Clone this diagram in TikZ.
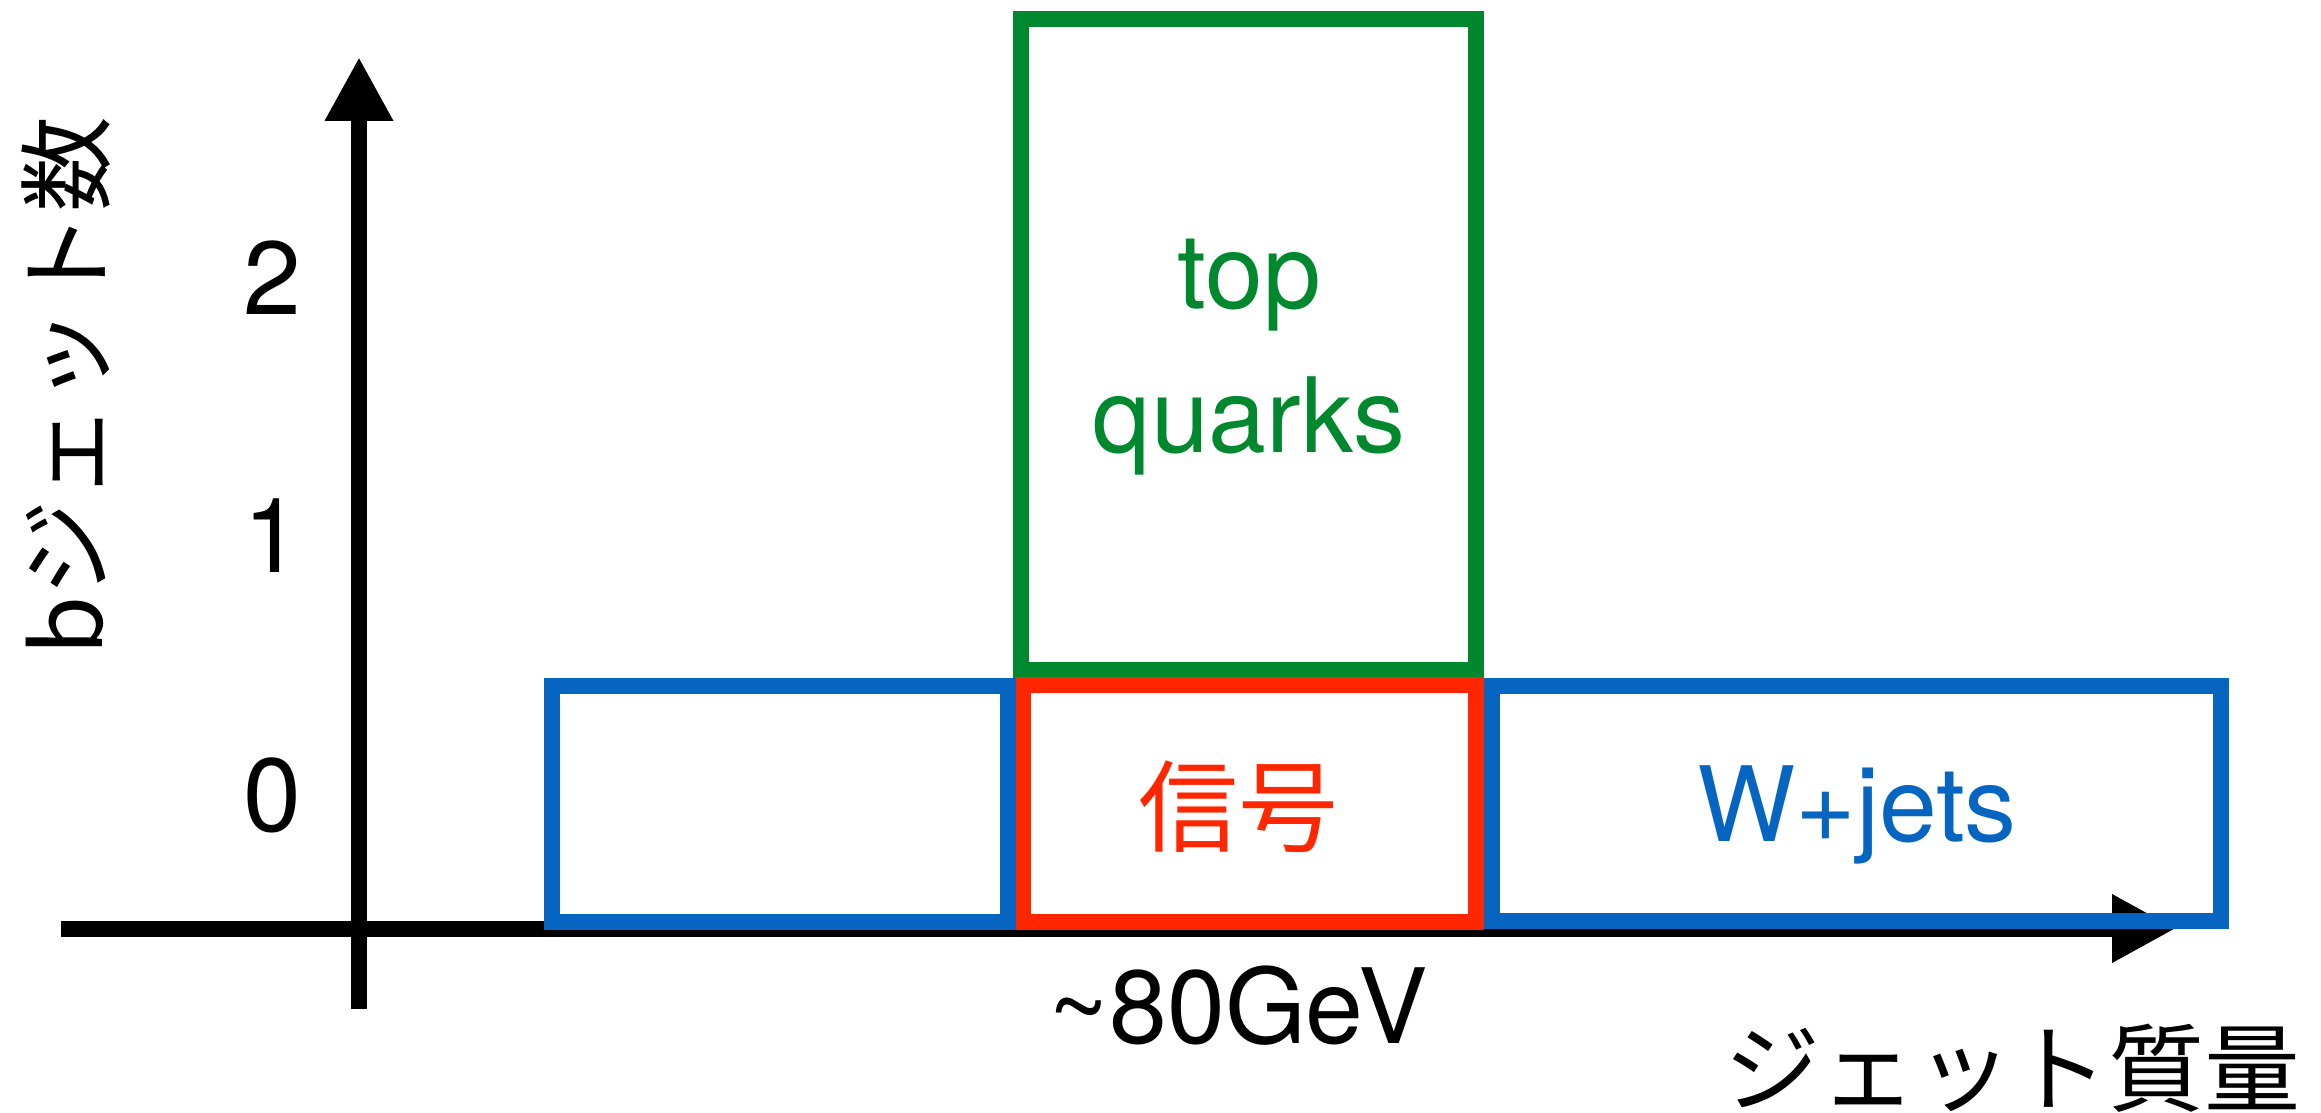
\documentclass[tikz,border=0pt]{standalone}
\usepackage{fontspec}
\setmainfont{TeX Gyre Heros}
\newfontfamily\jp{Noto Sans CJK JP}
\usetikzlibrary{arrows.meta}
\definecolor{cgreen}{RGB}{0,136,46}
\definecolor{cblue}{RGB}{5,101,192}
\definecolor{cred}{RGB}{255,38,0}
\begin{document}
\begin{tikzpicture}[x=1pt,y=-1pt,
  axisline/.style={line width=16pt, black},
  boxline/.style={line width=16pt},
  lat/.style={font=\fontsize{104}{110}\selectfont, inner sep=0pt},
  jlab/.style={font=\jp\fontsize{96}{100}\selectfont, inner sep=0pt}]
\useasboundingbox (0,0) rectangle (2321,1113);
% axes
\coordinate (xs) at (61,928.5);
\coordinate (xe) at (2176,928.5);
\coordinate (ys) at (359,1009);
\coordinate (ye) at (359,57);
\draw[axisline, -{Triangle[length=64pt,width=64pt]}] (xs) -- (xe);
\draw[axisline, -{Triangle[length=64pt,width=64pt]}] (ys) -- (ye);
% boxes
\draw[boxline, cgreen] (1020.5,19) rectangle (1476,669.5);
\draw[boxline, cred] (1023,685) rectangle (1476,921.5);
\draw[boxline, cblue] (552,686) rectangle (1008,922);
\draw[boxline, cblue] (1492,686) rectangle (2220.5,921);
% labels
\node[lat, anchor=base] (n2) at (272,314) {2};
\node[lat, anchor=base] (n1) at (272,572) {1};
\node[lat, anchor=base] (n0) at (272,831) {0};
\node[lat, text=cgreen, anchor=base] (top) at (1249,308) {top};
\node[lat, text=cgreen, anchor=base] (quarks) at (1249,452) {quarks};
\node[jlab, font=\jp\fontsize{100}{104}\selectfont, text=cred] (sig) at (1238,807) {信号};
\node[lat, text=cblue, anchor=base] (wj) at (1857,841) {W+jets};
\node[lat, anchor=base] (gev) at (1238,1043) {\textasciitilde 80GeV};
\node[jlab] (xl) at (2012,1068) {ジェット質量};
\node[jlab, rotate=90] (yl) at (66,386) {bジェット数};
\end{tikzpicture}
\end{document}
